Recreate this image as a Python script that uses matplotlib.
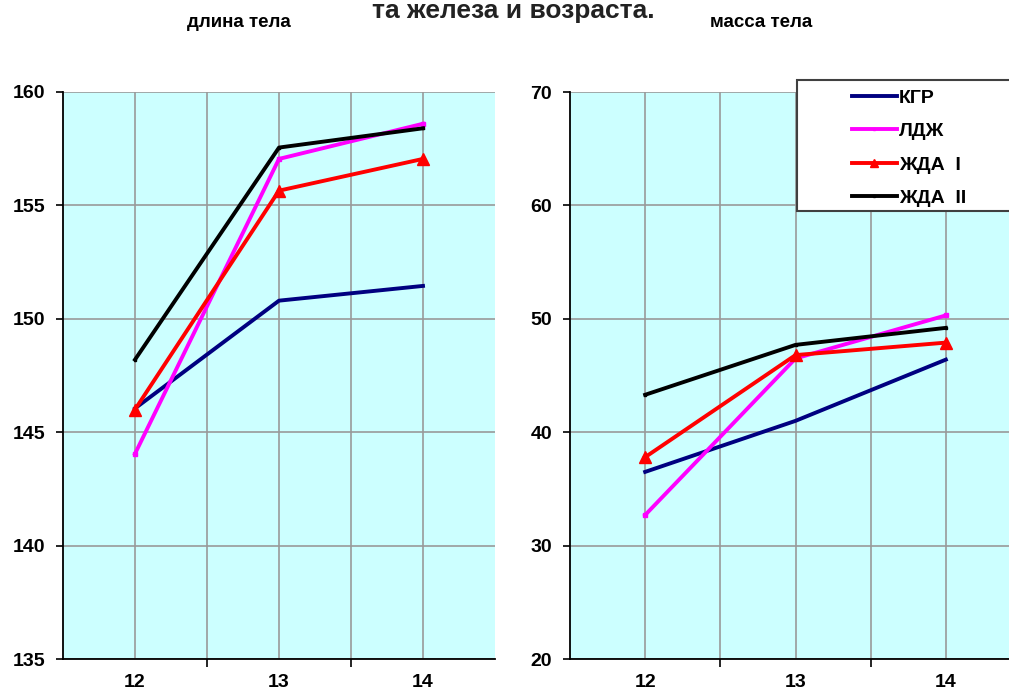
import numpy as np
import matplotlib.pyplot as plt
from matplotlib.patches import Rectangle

ages = ['12', '13', '14']
groups = ['КГР', 'ЛДЖ', 'ЖДА  I', 'ЖДА  II']

length_kgr = [146.05, 150.8, 151.45]
length_ldzh = [144.05, 157.05, 158.6]
length_zhda1 = [146.0, 155.65, 157.05]
length_zhda2 = [148.2, 157.55, 158.4]

mass_kgr = [36.5, 41.0, 46.4]
mass_ldzh = [32.7, 46.5, 50.3]
mass_zhda1 = [37.8, 46.8, 47.9]
mass_zhda2 = [43.3, 47.7, 49.2]

colors = ['#000080', '#FF00FF', '#FF0000', '#000000']
markers = [None, 's', '^', 's']
msizes = [0, 3, 8, 2]

FONT = ['Liberation Sans', 'DejaVu Sans']
plt.rcParams['font.family'] = FONT
plt.rcParams['font.weight'] = 'bold'

W, H = 1009, 691
fig = plt.figure(figsize=(W / 100, H / 100), dpi=100)


def px_axes(x0, x1, y0, y1):
    return fig.add_axes([x0 / W, 1 - y1 / H, (x1 - x0) / W, (y1 - y0) / H])


def style(ax, ylim, yticks):
    ax.set_facecolor('#CCFFFF')
    ax.set_xlim(-0.5, 2.5)
    ax.set_ylim(*ylim)
    ax.set_yticks(yticks)
    ax.set_xticks([0.5, 1.5])
    ax.set_xticklabels([])
    ax.set_xticks(range(len(ages)), minor=True)
    ax.set_xticklabels(ages, minor=True)
    ax.tick_params(axis='x', which='major', direction='out', length=6, width=1.2)
    ax.tick_params(axis='x', which='minor', length=0, pad=11, labelsize=14)
    ax.tick_params(axis='y', direction='out', length=5, width=1.2, pad=8, labelsize=14)
    for s in ['top', 'right']:
        ax.spines[s].set_visible(False)
    for s in ['left', 'bottom']:
        ax.spines[s].set_linewidth(1.3)
    ax.grid(True, which='both', color='#999999', linewidth=1.2)
    ax.set_axisbelow(True)
    for lab in ax.get_xticklabels(minor=True) + ax.get_yticklabels():
        lab.set_fontweight('bold')


ax1 = px_axes(63, 495, 92, 659)
style(ax1, (135, 160), [135, 140, 145, 150, 155, 160])
x = np.arange(len(ages))
for vals, c, m, ms in zip([length_kgr, length_ldzh, length_zhda1, length_zhda2],
                          colors, markers, msizes):
    ax1.plot(x, vals, color=c, lw=2.8, marker=m, markersize=ms)

ax2 = px_axes(570, 1021, 92, 659)
style(ax2, (20, 70), [20, 30, 40, 50, 60, 70])
lines = []
for vals, c, m, ms, g in zip([mass_kgr, mass_ldzh, mass_zhda1, mass_zhda2],
                             colors, markers, msizes, groups):
    ln, = ax2.plot(x, vals, color=c, lw=2.8, marker=m, markersize=ms, label=g)
    lines.append(ln)

# legend box
fig.add_artist(Rectangle((797 / W, 1 - 211 / H), (1015 - 797) / W, (211 - 80) / H,
                         transform=fig.transFigure, facecolor='white',
                         edgecolor='#404040', lw=1.5, zorder=5))
leg = fig.legend(handles=lines, loc='upper left',
                 bbox_to_anchor=(852 / W, 1 - 89 / H), frameon=False,
                 prop={'weight': 'bold', 'size': 14}, handlelength=2.3,
                 handletextpad=0.12, labelspacing=0.82, borderpad=0,
                 borderaxespad=0, markerscale=0.7)
leg.set_zorder(6)

fig.text(513 / W, 1 - 18 / H, 'та железа и возраста.', ha='center',
         va='baseline', fontsize=19, fontweight='bold', color='#222222')
fig.text(239 / W, 1 - 27 / H, 'длина тела', ha='center', va='baseline',
         fontsize=13.5, fontweight='bold')
fig.text(761 / W, 1 - 27 / H, 'масса тела', ha='center', va='baseline',
         fontsize=13.5, fontweight='bold')

fig.savefig('out.png', dpi=100)
